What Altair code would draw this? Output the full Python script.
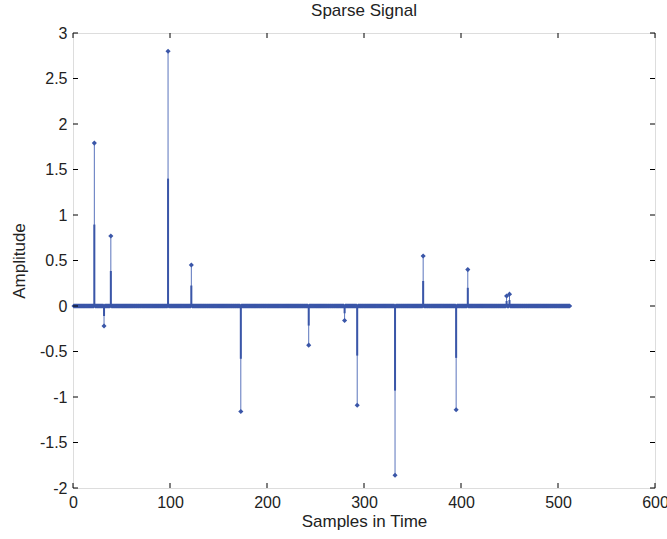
import altair as alt
import pandas as pd

N = 512
spike_idx = [22, 32, 39, 98, 122, 173, 243, 280, 293, 332, 361, 395, 407, 447, 450]
spike_val = [1.79, -0.22, 0.77, 2.80, 0.45, -1.16, -0.43, -0.16, -1.09, -1.86, 0.55, -1.14, 0.40, 0.11, 0.13]
x_ticks = [0, 100, 200, 300, 400, 500, 600]
y_ticks = [-2, -1.5, -1, -0.5, 0, 0.5, 1, 1.5, 2, 2.5, 3]

signal = [0.0] * N
for i, v in zip(spike_idx, spike_val):
    signal[i - 1] = v
df = pd.DataFrame({"n": list(range(1, N + 1)), "amp": signal})
df_spk = pd.DataFrame({"n": spike_idx, "amp": spike_val, "zero": [0.0] * len(spike_idx)})
df_xt = pd.DataFrame({"t": x_ticks})
df_yt = pd.DataFrame({"t": y_ticks})

W, H = 582, 455
FONT = "Liberation Sans"
BLUE = "#3a56a8"
STEM = "#5a74bc"

xs = alt.Scale(domain=[0, 600], nice=False, zero=False)
ys = alt.Scale(domain=[-2, 3], nice=False, zero=False)

xaxis = alt.Axis(values=x_ticks, ticks=False, domain=False, grid=False, labelFont=FONT,
                 labelFontSize=16, labelColor="#222222", labelPadding=6, labelFlush=False,
                 title="Samples in Time",
                 titleFont=FONT, titleFontSize=17, titleFontWeight="normal", titleColor="#222222",
                 titlePadding=3, format="d")
yaxis = alt.Axis(values=y_ticks, ticks=False, domain=False, grid=False, labelFont=FONT,
                 labelFontSize=16, labelColor="#222222", labelPadding=6, labelFlush=False,
                 title="Amplitude",
                 titleFont=FONT, titleFontSize=17, titleFontWeight="normal", titleColor="#222222",
                 titlePadding=11, labelExpr="datum.value")

stems = alt.Chart(df_spk).mark_rule(color=STEM, strokeWidth=1).encode(
    x=alt.X("n:Q", scale=xs, axis=xaxis),
    y=alt.Y("zero:Q", scale=ys, axis=yaxis),
    y2="amp:Q",
)
half = alt.Chart(df_spk).transform_calculate(mid="datum.amp / 2").mark_rule(
    color=BLUE, strokeWidth=2).encode(
    x=alt.X("n:Q", scale=xs),
    y=alt.Y("zero:Q", scale=ys),
    y2="mid:Q",
)
pts = alt.Chart(df).mark_point(shape="diamond", filled=True, size=26, color=BLUE, opacity=1).encode(
    x=alt.X("n:Q", scale=xs),
    y=alt.Y("amp:Q", scale=ys),
)
tb = alt.Chart(df_xt).mark_rule(color="black", strokeWidth=1).encode(
    x=alt.X("t:Q", scale=xs), y=alt.value(H), y2=alt.value(H - 5))
tt = alt.Chart(df_xt).mark_rule(color="black", strokeWidth=1).encode(
    x=alt.X("t:Q", scale=xs), y=alt.value(0), y2=alt.value(5))
tl = alt.Chart(df_yt).mark_rule(color="black", strokeWidth=1).encode(
    y=alt.Y("t:Q", scale=ys), x=alt.value(0), x2=alt.value(5))
tr = alt.Chart(df_yt).mark_rule(color="black", strokeWidth=1).encode(
    y=alt.Y("t:Q", scale=ys), x=alt.value(W), x2=alt.value(W - 5))

chart = alt.layer(stems, half, pts, tb, tt, tl, tr).properties(
    width=W, height=H,
    title=alt.TitleParams("Sparse Signal", font=FONT, fontSize=17, fontWeight="normal",
                          color="#222222", offset=5),
    autosize=alt.AutoSizeParams(type="none"),
    padding={"left": 73, "top": 33, "right": 12, "bottom": 51},
).configure_view(stroke="black", strokeWidth=1).configure(background="white")

chart.save("out.html", embed_options={"renderer": "svg", "actions": False})
